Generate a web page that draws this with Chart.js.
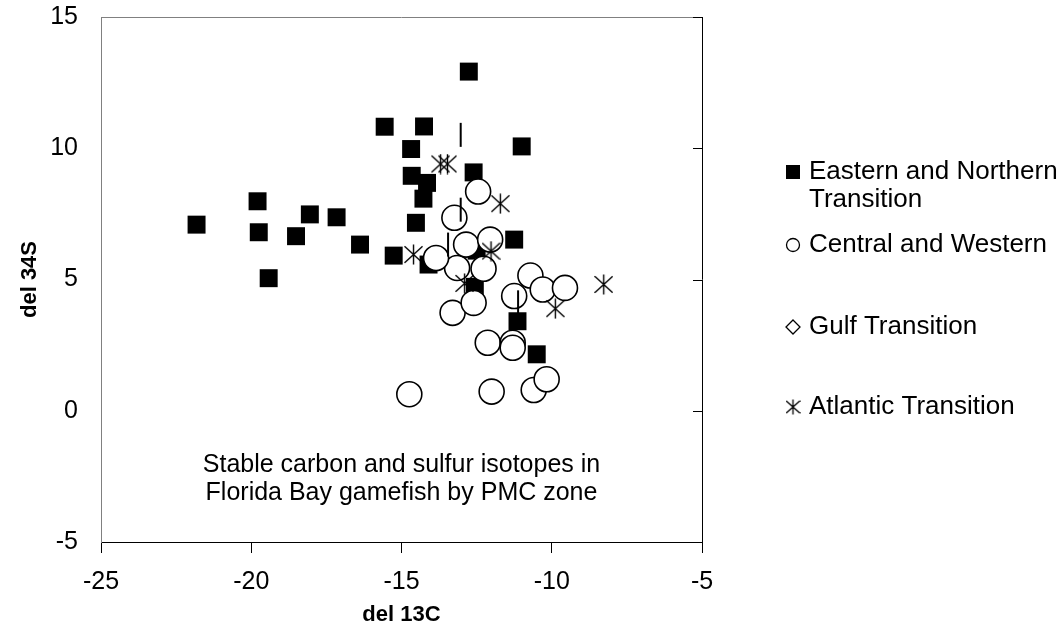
<!DOCTYPE html>
<html>
<head>
<meta charset="utf-8">
<script src="https://cdn.jsdelivr.net/npm/chart.js@4/dist/chart.umd.min.js"></script>
<style>
  html,body{margin:0;padding:0;background:#fff;}
  #wrap{width:1060px;height:632px;}
</style>
</head>
<body>
<div id="wrap"><canvas id="c" width="1060" height="632"></canvas></div>
<script>
// values
const eastX = [-21.82,-19.79,-19.75,-19.42,-18.05,-18.51,-17.16,-16.38,-15.26,-15.56,-14.25,-14.68,-11.0,-14.66,-14.15,-12.6,-14.27,-14.52,-14.1,-11.25,-12.56,-12.76,-11.14,-10.5,-12.5];
const eastY = [7.09,7.98,6.8,5.05,7.48,6.65,7.37,6.33,5.91,10.82,10.83,9.97,10.07,8.95,8.68,9.08,8.08,7.16,5.57,6.52,4.72,12.92,3.41,2.15,6.1];
const centX = [-14.74,-12.0,-10.6,-10.17,-12.13,-11.3,-11.3,-13.3,-12.6,-11.25,-10.71,-10.3,-9.56,-13.15,-12.27,-13.85,-12.45,-13.24,-12.85,-12.05];
const centY = [0.63,0.73,0.79,1.2,2.59,2.59,2.4,3.73,4.11,4.37,5.15,4.62,4.68,5.44,5.41,5.82,8.35,7.35,6.33,6.52];
const gulfX = [];
const gulfY = [];
const atlX = [-13.7,-13.47,-11.71,-14.6,-12.02,-12.9,-8.27,-9.88];
const atlY = [9.4,9.4,7.89,5.95,6.08,4.85,4.81,3.89];
const barX = [-13.03,-13.03,-13.45,-11.12];
const barY = [10.51,7.66,6.33,4.13];
const seriesNames = ['Eastern and Northern|Transition','Central and Western','Gulf Transition','Atlantic Transition'];
const xTicks = [-25,-20,-15,-10,-5];
const yTicks = [-5,0,5,10,15];
const chartTitle = ['Stable carbon and sulfur isotopes in','Florida Bay gamefish by PMC zone'];

const pts = (xs, ys) => xs.map((x, i) => ({x, y: ys[i]}));

function makeStar(w, h, lw){
  const c = document.createElement('canvas');
  c.width = w; c.height = h;
  const g = c.getContext('2d');
  const mx = w/2, my = h/2, rx = w/2 - 0.5, ry = h/2 - 0.5;
  g.strokeStyle = '#000'; g.lineWidth = lw;
  g.beginPath();
  g.moveTo(mx-rx, my-ry*0.82); g.lineTo(mx+rx, my+ry*0.82);
  g.moveTo(mx+rx, my-ry*0.82); g.lineTo(mx-rx, my+ry*0.82);
  g.moveTo(mx, my-ry); g.lineTo(mx, my+ry);
  g.stroke();
  return c;
}
const starBig = makeStar(19, 21, 1.4);

const FONT = 'Liberation Sans, Arial, sans-serif';

const extras = {
  id:'extras',
  afterDraw(chart){
    const {ctx, chartArea:a, scales} = chart;
    ctx.save();
    // top border gray, right axis black
    ctx.lineWidth = 1;
    ctx.strokeStyle = '#808080';
    ctx.beginPath(); ctx.moveTo(a.left, a.top+0.5); ctx.lineTo(a.right, a.top+0.5); ctx.stroke();
    ctx.strokeStyle = '#000';
    ctx.beginPath(); ctx.moveTo(a.right+0.5, a.top); ctx.lineTo(a.right+0.5, a.bottom); ctx.stroke();
    yTicks.forEach(v => {
      const y = Math.round(scales.y.getPixelForValue(v)) + 0.5;
      ctx.beginPath(); ctx.moveTo(a.right-9, y); ctx.lineTo(a.right, y); ctx.stroke();
    });
    // inner title
    ctx.fillStyle = '#000';
    ctx.font = '25px ' + FONT;
    ctx.textAlign = 'center'; ctx.textBaseline = 'middle';
    const cx = (a.left + a.right)/2;
    ctx.fillText(chartTitle[0], cx, 465);
    ctx.fillText(chartTitle[1], cx, 493);
    // legend
    ctx.textAlign = 'left';
    ctx.font = '26px ' + FONT;
    const lx = 793, tx = 809;
    const rows = [172, 245, 327, 407];
    ctx.fillRect(lx-7, rows[0]-7, 14, 14);
    ctx.lineWidth = 1.3;
    ctx.beginPath(); ctx.arc(lx, rows[1], 6.5, 0, Math.PI*2); ctx.stroke();
    ctx.beginPath();
    ctx.moveTo(lx, rows[2]-7); ctx.lineTo(lx+7, rows[2]); ctx.lineTo(lx, rows[2]+7); ctx.lineTo(lx-7, rows[2]); ctx.closePath();
    ctx.stroke();
    ctx.drawImage(makeStar(15, 16, 1.3), lx-7.5, rows[3]-8);
    seriesNames.forEach((n, i) => {
      n.split('|').forEach((p, j) => ctx.fillText(p, tx, rows[i] + j*28));
    });
    ctx.restore();
  }
};

new Chart(document.getElementById('c'), {
  type:'scatter',
  data:{
    datasets:[
      { label:seriesNames[0], data:pts(eastX, eastY), pointStyle:'rect', pointRadius:12.7, backgroundColor:'#000', borderWidth:0, order:5 },
      { label:seriesNames[1], data:pts(centX, centY), pointStyle:'circle', pointRadius:12.5, backgroundColor:'#fff', borderColor:'#000', borderWidth:1.6, order:4 },
      { label:seriesNames[2], data:pts(gulfX, gulfY), pointStyle:'rectRot', pointRadius:7, backgroundColor:'#fff', borderColor:'#000', borderWidth:1.3, order:3 },
      { label:seriesNames[3], data:pts(atlX, atlY), pointStyle:starBig, order:2 },
      { label:'', data:pts(barX, barY), pointStyle:'line', rotation:90, pointRadius:12, borderColor:'#000', borderWidth:2, order:1 }
    ]
  },
  options:{
    responsive:false, animation:false, events:[],
    layout:{ padding:{ left:0, right:358, top:17, bottom:0 } },
    plugins:{ legend:{display:false}, tooltip:{enabled:false} },
    scales:{
      x:{
        type:'linear', min:-25, max:-5,
        afterFit(s){ s.height = 90; s.paddingLeft = 0; s.paddingRight = 0; },
        afterBuildTicks(s){ s.ticks = xTicks.map(v => ({value:v})); },
        grid:{ drawOnChartArea:false, drawTicks:true, tickLength:11, color:'#000' },
        border:{ color:'#000', width:1 },
        ticks:{ color:'#000', font:{family:FONT, size:25}, padding:14 },
        title:{ display:true, text:'del 13C', color:'#000', font:{family:FONT, size:22, weight:'bold'}, padding:{top:0, bottom:4} }
      },
      y:{
        type:'linear', min:-5, max:15,
        afterFit(s){ s.width = 101; s.paddingTop = 0; s.paddingBottom = 0; },
        afterBuildTicks(s){ s.ticks = yTicks.map(v => ({value:v})); },
        grid:{ display:false },
        border:{ color:'#808080', width:1 },
        ticks:{ color:'#000', font:{family:FONT, size:25}, padding:15 },
        title:{ display:true, text:'del 34S', color:'#000', font:{family:FONT, size:22, weight:'bold'}, padding:{top:17, bottom:0} }
      }
    }
  },
  plugins:[extras]
});
</script>
</body>
</html>
